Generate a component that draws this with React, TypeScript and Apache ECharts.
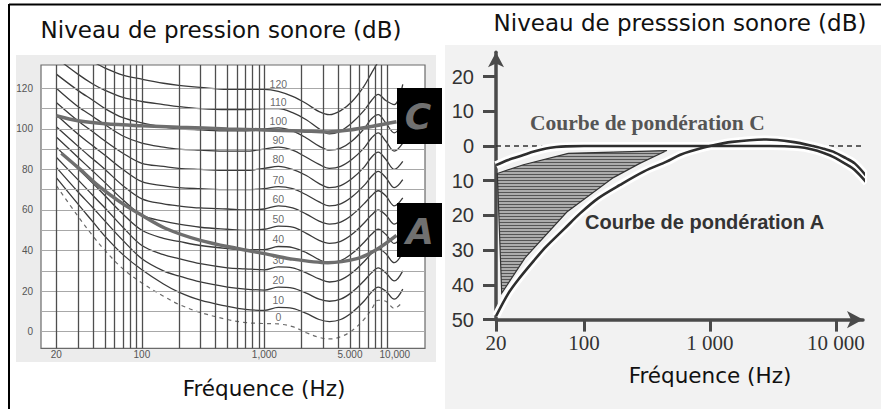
import React, { useEffect, useRef } from 'react';
import * as echarts from 'echarts';

// ---------- Left panel: equal-loudness contours ----------
const contourFreqs = [20, 30, 40, 50, 70, 100, 150, 200, 300, 500, 700, 1000, 1300, 1700, 2200, 2800, 3400, 4200, 5200, 6500, 7500, 8500, 9800, 11500, 13500];
const phon0 = [72, 57, 47, 40, 31, 24, 17.5, 13.5, 9.5, 6, 4.5, 4, 3.8, 2.5, -0.5, -2.8, -3.6, -2.5, 0.5, 6, 11, 15.5, 15, 11.5, 14.8];
const phon10 = [76, 63, 54, 47, 38, 30.5, 23.5, 19.5, 15.5, 12.5, 11, 10.5, 12, 11.5, 9, 6, 5, 6, 9.5, 15, 19.5, 22, 20, 16, 21];
const phon20 = [81, 69, 61, 54.5, 45, 36, 30, 27.5, 24.5, 22, 21, 20.5, 22, 21.5, 19, 16, 15, 16, 19.5, 25, 29, 31.5, 29, 25, 30];
const phon30 = [86, 75, 67, 61, 51.5, 42.5, 38, 36, 33.5, 31.5, 31, 30.5, 32, 31.5, 29, 26, 24.5, 25.5, 29, 34.5, 38.5, 41, 38.5, 34, 39];
const phon40 = [91, 80.5, 73, 67, 58, 50, 46, 44.5, 42.5, 41, 40.5, 40.5, 42, 41.5, 39, 35.5, 34, 35, 38.5, 44, 48, 50.5, 48, 43.5, 48];
const phon50 = [96, 86, 79, 73.5, 65, 57.5, 54.5, 53, 51.5, 50.5, 50, 50.5, 52, 51.5, 48.5, 45, 43.5, 44.5, 48, 53.5, 57.5, 60, 57.5, 53, 57];
const phon60 = [101, 91.5, 85, 80, 72, 65.5, 63, 62, 61, 60.5, 60, 60.5, 62, 61, 58, 54.5, 53, 54, 57.5, 63, 67, 69.5, 67, 62, 66];
const phon70 = [107, 97.5, 91.5, 87, 80, 74, 72, 71, 70.5, 70, 70, 70.5, 71.5, 70.5, 67.5, 64, 62, 63, 66.5, 72, 76.5, 79, 76, 71, 75];
const phon80 = [113, 104, 98.5, 94, 88, 83, 81.5, 80.5, 80, 79.5, 79.5, 80.5, 81.5, 80, 77, 73, 71, 72, 75.5, 81, 86, 88.5, 85, 80, 84];
const phon90 = [120, 111, 106, 102, 96.5, 93, 91, 90, 89.5, 89, 89, 90, 91, 89.5, 86, 82.5, 80.5, 81.5, 85, 90.5, 95.5, 98, 94, 89, 93];
const phon100 = [127, 119, 114, 110, 105.5, 103, 101, 100, 99.5, 99, 99, 100, 100.5, 99, 95.5, 91.5, 89.5, 90.5, 94, 100, 105, 107, 103, 98, 103];
const phon110 = [135, 127, 122, 119, 115.5, 113.5, 112, 111, 110, 109.5, 109.5, 110, 110, 108, 104.5, 100, 97.5, 99, 103, 109, 114, 117, 114, 112, 122];
const phon120 = [144, 137, 133, 130, 126.5, 124.5, 122.5, 121.5, 120.5, 119.5, 119.5, 119.5, 118.5, 116, 112.5, 108.5, 107, 109, 113.5, 121, 127.5, 133, 138, 140, 145];
const contourLevels = ['0', '10', '20', '30', '40', '50', '60', '70', '80', '90', '100', '110', '120'];
const contours = [phon0, phon10, phon20, phon30, phon40, phon50, phon60, phon70, phon80, phon90, phon100, phon110, phon120];
const contourLabelFreq = 1300;

const cLeftFreqs = [20, 30, 50, 100, 200, 500, 1000, 2000, 3300, 5000, 8000, 12000];
const cLeftValues = [106.5, 104, 102.5, 101.5, 100.8, 100, 99.5, 99, 98.5, 99.5, 101.5, 103.5];
const aLeftFreqs = [22, 30, 45, 70, 96, 155, 300, 600, 1000, 1600, 3300, 5700, 8000, 12000];
const aLeftValues = [88, 81, 71.5, 63, 58, 51, 45, 41, 38.5, 36, 34, 36, 40, 47.5];

const leftXTicks = [20, 100, 1000, 5000, 10000];
const leftXTexts = ['20', '100', '1,000', '5.000', '10,000'];
const leftYTicks = [0, 20, 40, 60, 80, 100, 120];
const leftVGrid = [20, 30, 40, 50, 60, 70, 80, 90, 100, 200, 300, 400, 500, 600, 700, 800, 900, 1000, 2000, 3000, 4000, 5000, 6000, 7000, 8000, 9000, 10000];
const leftHGrid = [0, 10, 20, 30, 40, 50, 60, 70, 80, 90, 100, 110, 120];

// ---------- Right panel: weighting curves ----------
const cWeightFreqs = [20, 25, 33, 40, 50, 60, 72, 100, 300, 1000, 3000, 5000, 6500, 8000, 9500, 12000, 14100, 17600];
const cWeightValues = [-5.5, -4, -2.6, -1.6, -0.7, -0.3, -0.1, 0, 0, 0, 0, -0.3, -1, -2, -3.1, -5.2, -6.9, -10.6];
const aWeightFreqs = [20, 25, 30, 40, 50, 70, 93, 130, 193, 300, 452, 575, 700, 1000, 1500, 2800, 4500, 6600, 8000, 9500, 12000, 14100, 17600];
const aWeightValues = [-49, -42.5, -38.5, -33, -29, -23.8, -19.4, -15, -11.2, -7.3, -4.5, -2.6, -1.5, 0, 1.2, 1.9, 1.2, 0, -0.8, -1.6, -3.5, -5, -8.8];
const hatchFreqs = [20.5, 33, 75, 455, 277, 171, 73, 34, 22.2];
const hatchValues = [-7.9, -5.4, -2.1, -1.3, -5, -9.1, -19, -32.2, -42.4];
const zeroLineFreqs = [20, 17600];
const rightXTicks = [20, 100, 1000, 10000];
const rightXTexts = ['20', '100', '1 000', '10 000'];
const rightYTicks = [-50, -40, -30, -20, -10, 0, 10, 20];

const TITLE_FONT = "'DejaVu Sans', sans-serif";
const SANS = "'Liberation Sans', Arial, sans-serif";
const SERIF = "'Liberation Serif', 'Times New Roman', serif";

export default function App() {
  const ref = useRef<HTMLDivElement>(null);
  useEffect(() => {
    if (!ref.current) return;
    const chart = echarts.init(ref.current, null, { renderer: 'svg' });

    const cv = document.createElement('canvas');
    cv.width = 4;
    cv.height = 3;
    const ctx = cv.getContext('2d');
    if (ctx) {
      ctx.fillStyle = '#acacac';
      ctx.fillRect(0, 0, 4, 3);
      ctx.fillStyle = '#555555';
      ctx.fillRect(0, 0, 4, 1);
    }
    const hatchFill: any = { image: cv, repeat: 'repeat' };

    const labelIdx = contourFreqs.indexOf(contourLabelFreq);
    const pairs = (xs: number[], ys: number[]) => xs.map((x, i) => [x, ys[i]]);

    const contourSeries = contours.map((arr, i) => ({
      type: 'line',
      xAxisIndex: 0,
      yAxisIndex: 0,
      data: pairs(contourFreqs, arr),
      smooth: 0.35,
      showSymbol: false,
      silent: true,
      z: 3,
      lineStyle: i === 0
        ? { color: '#6a6a6a', width: 1.2, type: [4, 4] }
        : { color: '#3a3a3a', width: 1.3 },
    }));

    const mk = (v: number, key: 'xAxis' | 'yAxis', color: string, width: number) => ({
      [key]: v,
      lineStyle: { color, width, type: 'solid' },
    });

    const option: any = {
      animation: false,
      backgroundColor: '#ffffff',
      grid: [
        { left: 41, top: 65, width: 384, height: 283.3, show: true, backgroundColor: '#ffffff', borderColor: '#6a6a6a', borderWidth: 1.2, outerBoundsMode: 'none', containLabel: false },
        { left: 496, top: 52.3, width: 367, height: 267.3, show: false, outerBoundsMode: 'none', containLabel: false },
      ],
      xAxis: [
        {
          type: 'log', logBase: 10, gridIndex: 0, min: 15, max: 20500,
          axisLine: { show: false }, axisTick: { show: false }, splitLine: { show: false }, minorSplitLine: { show: false },
          axisLabel: {
            customValues: leftXTicks,
            margin: 1,
            fontSize: 10,
            fontFamily: SANS,
            color: '#555',
            formatter: (v: number) => {
              const i = leftXTicks.findIndex((t) => Math.abs(t - v) / t < 0.01);
              if (i < 0) return '';
              return i === 4 ? '{r|' + leftXTexts[i] + '}' : leftXTexts[i];
            },
            rich: { r: { fontSize: 10, color: '#555', padding: [0, 0, 0, 16], fontFamily: SANS } },
          },
        },
        {
          type: 'log', logBase: 10, gridIndex: 1, min: 20, max: 16400,
          axisLine: { show: true, onZero: false, symbol: ['none', 'arrow'], symbolSize: [13, 16], lineStyle: { color: '#4a4a4a', width: 3.5 } },
          axisTick: { show: true, customValues: rightXTicks, length: 12, lineStyle: { color: '#4a4a4a', width: 3 } },
          splitLine: { show: false }, minorSplitLine: { show: false },
          axisLabel: {
            customValues: rightXTicks,
            margin: 13,
            fontSize: 21,
            fontFamily: SERIF,
            color: '#333',
            formatter: (v: number) => {
              const i = rightXTicks.findIndex((t) => Math.abs(t - v) / t < 0.01);
              return i < 0 ? '' : rightXTexts[i];
            },
          },
        },
      ],
      yAxis: [
        {
          type: 'value', gridIndex: 0, min: -8.2, max: 131.5,
          axisLine: { show: false }, axisTick: { show: false }, splitLine: { show: false },
          axisLabel: { customValues: leftYTicks, margin: 8, fontSize: 10, color: '#555', fontFamily: SANS },
        },
        {
          type: 'value', gridIndex: 1, min: -50, max: 27,
          axisLine: { show: true, onZero: false, symbol: ['none', 'arrow'], symbolSize: [12, 15], lineStyle: { color: '#4a4a4a', width: 3.5 } },
          axisTick: { show: true, customValues: rightYTicks, length: 13, lineStyle: { color: '#4a4a4a', width: 3 } },
          splitLine: { show: false },
          axisLabel: {
            customValues: rightYTicks,
            margin: 22,
            fontSize: 20,
            fontFamily: SANS,
            color: '#333',
            formatter: (v: number) => String(Math.abs(Math.round(v))),
          },
        },
      ],
      series: [
        {
          type: 'line', xAxisIndex: 0, yAxisIndex: 0, data: [[20, 0]], showSymbol: false, silent: true, z: 1,
          lineStyle: { opacity: 0 },
          markLine: {
            silent: true, symbol: ['none', 'none'], label: { show: false }, animation: false,
            data: [
              ...leftHGrid.map((v) => mk(v, 'yAxis', '#a8a8a8', 1)),
              ...leftVGrid.map((v) => mk(v, 'xAxis', '#4e4e4e', 1.3)),
            ],
          },
        },
        ...contourSeries,
        {
          type: 'scatter', xAxisIndex: 0, yAxisIndex: 0, z: 4, silent: true,
          data: contours.map((arr) => [contourLabelFreq, arr[labelIdx]]),
          symbolSize: 1,
          itemStyle: { color: 'rgba(0,0,0,0)' },
          label: {
            show: true, position: 'top', distance: 1, fontSize: 10.5, color: '#444',
            fontFamily: SANS,
            formatter: (p: any) => contourLevels[p.dataIndex],
          },
        },
        {
          type: 'line', xAxisIndex: 0, yAxisIndex: 0, data: pairs(cLeftFreqs, cLeftValues), smooth: 0.3,
          showSymbol: false, silent: true, z: 5, lineStyle: { color: '#6e6e6e', width: 3.5 },
        },
        {
          type: 'line', xAxisIndex: 0, yAxisIndex: 0, data: pairs(aLeftFreqs, aLeftValues), smooth: 0.3,
          showSymbol: false, silent: true, z: 5, lineStyle: { color: '#6e6e6e', width: 3.5 },
        },
        // Right panel
        {
          type: 'line', xAxisIndex: 1, yAxisIndex: 1, data: pairs(zeroLineFreqs, [0, 0]), showSymbol: false, silent: true,
          clip: false, z: 2, lineStyle: { color: '#333', width: 1.4, type: [5, 4] },
        },
        {
          type: 'line', xAxisIndex: 1, yAxisIndex: 1, data: pairs(cWeightFreqs, cWeightValues), smooth: 0.3, showSymbol: false,
          silent: true, clip: false, z: 3, lineStyle: { color: '#ffffff', width: 8 },
        },
        {
          type: 'line', xAxisIndex: 1, yAxisIndex: 1, data: pairs(aWeightFreqs, aWeightValues), smooth: 0.3, showSymbol: false,
          silent: true, clip: false, z: 3, lineStyle: { color: '#ffffff', width: 8 },
        },
        {
          type: 'custom', xAxisIndex: 1, yAxisIndex: 1, z: 4, silent: true,
          data: [[hatchFreqs[0], hatchValues[0]]],
          renderItem: (_p: any, api: any) => ({
            type: 'polygon',
            shape: { points: hatchFreqs.map((f, i) => api.coord([f, hatchValues[i]])) },
            style: { fill: hatchFill, stroke: '#333', lineWidth: 1.2 },
          }),
        },
        {
          type: 'line', xAxisIndex: 1, yAxisIndex: 1, data: pairs(cWeightFreqs, cWeightValues), smooth: 0.3, showSymbol: false,
          silent: true, clip: false, z: 5, lineStyle: { color: '#2e2e2e', width: 2.6 },
        },
        {
          type: 'line', xAxisIndex: 1, yAxisIndex: 1, data: pairs(aWeightFreqs, aWeightValues), smooth: 0.3, showSymbol: false,
          silent: true, clip: false, z: 5, lineStyle: { color: '#2e2e2e', width: 2.6 },
        },
      ],
      graphic: [
        { type: 'rect', z: -10, shape: { x: 16, y: 55, width: 420, height: 307 }, style: { fill: '#ececec' } },
        { type: 'rect', z: -10, shape: { x: 445, y: 45, width: 436, height: 364 }, style: { fill: '#f2f2f2' } },
        { type: 'line', z: 50, shape: { x1: 9, y1: 4.5, x2: 881, y2: 4.5 }, style: { stroke: '#000', lineWidth: 2 } },
        { type: 'line', z: 50, shape: { x1: 9, y1: 4, x2: 9, y2: 409 }, style: { stroke: '#000', lineWidth: 2 } },
        { type: 'text', z: 50, x: 221, y: 30, style: { text: 'Niveau de pression sonore (dB)', fontSize: 23, fontFamily: TITLE_FONT, fill: '#111', align: 'center', verticalAlign: 'middle' } },
        { type: 'text', z: 50, x: 680, y: 23, style: { text: 'Niveau de presssion sonore (dB)', fontSize: 23, fontFamily: TITLE_FONT, fill: '#111', align: 'center', verticalAlign: 'middle' } },
        { type: 'text', z: 50, x: 264, y: 388, style: { text: 'Fréquence (Hz)', fontSize: 21.5, fontFamily: TITLE_FONT, fill: '#111', align: 'center', verticalAlign: 'middle' } },
        { type: 'text', z: 50, x: 710, y: 375, style: { text: 'Fréquence (Hz)', fontSize: 21.5, fontFamily: TITLE_FONT, fill: '#111', align: 'center', verticalAlign: 'middle' } },
        { type: 'text', z: 50, x: 530, y: 123, style: { text: 'Courbe de pondération C', fontSize: 21.5, fontWeight: 'bold', fontFamily: SERIF, fill: '#555', align: 'left', verticalAlign: 'middle' } },
        { type: 'text', z: 50, x: 585, y: 222, style: { text: 'Courbe de pondération A', fontSize: 20, fontWeight: 'bold', fontFamily: SANS, fill: '#333', align: 'left', verticalAlign: 'middle' } },
        { type: 'rect', z: 100, shape: { x: 397, y: 88, width: 45, height: 56 }, style: { fill: '#000' } },
        { type: 'rect', z: 100, shape: { x: 397, y: 203, width: 45, height: 54 }, style: { fill: '#000' } },
        { type: 'text', z: 101, x: 418, y: 116, style: { text: 'C', fontSize: 36, fontWeight: 'bold', fontStyle: 'italic', fontFamily: TITLE_FONT, fill: '#707070', align: 'center', verticalAlign: 'middle' } },
        { type: 'text', z: 101, x: 420, y: 231, style: { text: 'A', fontSize: 36, fontWeight: 'bold', fontStyle: 'italic', fontFamily: TITLE_FONT, fill: '#707070', align: 'center', verticalAlign: 'middle' } },
      ],
    };

    chart.setOption(option);
    return () => chart.dispose();
  }, []);

  return <div ref={ref} style={{ position: 'fixed', left: 0, top: 0, width: 881, height: 409, background: '#fff' }} />;
}
